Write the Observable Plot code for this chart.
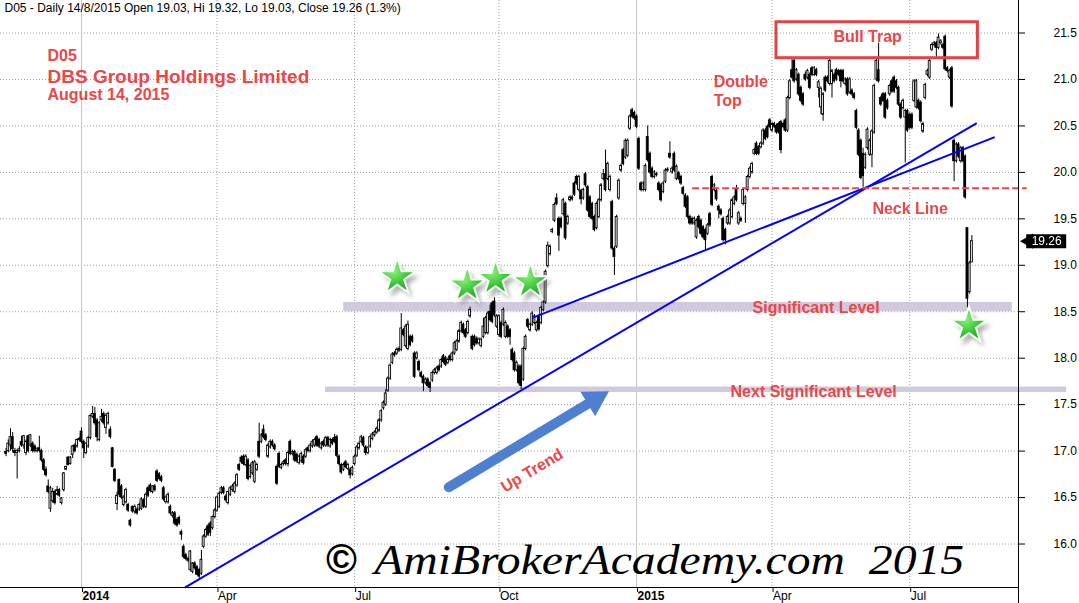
<!DOCTYPE html>
<html><head><meta charset="utf-8">
<script src="https://cdn.jsdelivr.net/npm/d3@7"></script>
<script src="https://cdn.jsdelivr.net/npm/@observablehq/plot@0.6"></script>
<style>html,body{margin:0;padding:0;background:#fff;}</style>
</head><body>
<div id="chart"></div>
<script>
// Daily OHLC, D05 (DBS Group), mid-Nov 2013 .. 14 Aug 2015 (trading-day index)
const O = [
16.97,17.00,17.06,17.15,17.00,16.98,17.00,17.10,17.06,16.98,
17.16,17.06,17.08,17.05,17.00,17.03,17.00,16.90,16.80,16.62,
16.38,16.46,16.56,16.53,16.58,16.44,16.58,16.80,16.93,16.86,
16.96,17.06,17.05,17.12,17.21,17.10,16.98,17.05,17.14,17.37,
17.40,17.33,17.12,17.33,17.40,17.25,17.30,17.23,17.03,16.80,
16.43,16.69,16.62,16.42,16.45,16.42,16.25,16.40,16.35,16.37,
16.37,16.38,16.47,16.40,16.60,16.63,16.56,16.62,16.78,16.75,
16.72,16.60,16.45,16.45,16.40,16.30,16.33,16.26,16.28,16.13,
15.97,15.88,15.82,15.72,15.70,15.79,15.75,15.72,15.68,15.97,
16.08,16.19,16.22,16.17,16.29,16.36,16.40,16.55,16.60,16.51,
16.44,16.53,16.58,16.56,16.63,16.85,16.93,16.94,16.85,16.90,
16.72,16.76,16.67,16.80,17.10,17.10,17.23,17.17,16.94,17.04,
17.10,17.06,16.83,16.97,16.82,16.86,16.90,16.86,17.10,16.97,
16.99,16.96,16.87,16.89,16.94,16.94,17.03,17.00,17.05,17.06,
17.15,17.12,17.03,17.10,17.06,17.14,17.05,17.12,17.14,17.15,
16.94,16.85,16.80,16.88,16.81,16.80,16.75,16.86,16.95,17.03,
17.10,17.14,17.04,16.98,17.05,17.13,17.17,17.20,17.22,17.33,
17.46,17.50,17.65,17.78,17.95,18.05,18.05,18.08,18.09,18.30,
18.13,18.10,18.23,18.23,18.05,18.00,17.96,17.84,17.80,17.73,
17.77,17.73,17.76,17.84,17.84,17.91,17.91,18.02,18.00,17.95,
18.02,17.98,18.05,18.09,18.18,18.29,18.36,18.30,18.27,18.45,
18.23,18.23,18.21,18.16,18.13,18.23,18.27,18.27,18.50,18.59,
18.61,18.34,18.25,18.38,18.36,18.23,18.34,18.30,18.09,18.05,
17.87,17.91,17.91,17.77,18.10,18.41,18.30,18.36,18.38,18.30,
18.45,18.38,18.52,18.60,18.99,19.12,19.36,19.48,19.72,19.50,
19.50,19.55,19.66,19.45,19.70,19.73,19.88,19.95,19.81,19.80,
19.72,19.98,19.84,19.73,19.66,19.52,19.40,19.52,19.70,19.93,
19.98,19.93,19.81,19.68,19.18,19.20,19.72,20.02,20.24,20.16,
20.18,20.47,20.67,20.64,20.60,20.36,19.88,19.81,19.81,20.38,
20.20,20.04,19.95,19.97,19.88,19.86,19.79,19.90,20.02,20.20,
20.00,20.20,19.93,19.99,19.95,19.83,19.75,19.73,19.52,19.50,
19.45,19.30,19.52,19.48,19.41,19.38,19.34,19.55,19.95,19.81,
19.80,19.63,19.59,19.50,19.38,19.45,19.45,19.52,19.66,19.81,
19.45,19.50,19.66,19.66,19.81,19.95,20.00,20.20,20.31,20.27,
20.27,20.31,20.45,20.49,20.56,20.45,20.52,20.50,20.52,20.54,
20.52,20.56,20.45,20.80,21.10,21.20,21.00,21.05,20.91,20.84,
21.05,21.02,21.05,21.12,21.05,21.10,20.91,20.70,20.62,21.02,
21.02,20.95,20.95,21.05,21.10,21.09,21.09,21.09,20.95,21.00,
20.86,20.88,20.84,20.66,20.45,20.34,20.20,20.05,20.26,20.19,
20.19,20.43,21.00,21.10,20.80,20.84,20.84,20.77,20.84,20.98,
21.02,20.98,20.91,20.73,20.69,20.59,20.66,20.62,20.62,20.77,
20.70,20.77,20.75,20.44,20.80,21.05,21.02,21.32,21.37,21.39,
21.34,21.39,21.34,21.46,21.12,21.02,21.12,20.34,20.12,20.30,
20.12,20.26,20.17,19.40,18.71,19.03];
const H = [
17.03,17.12,17.24,17.20,17.03,17.02,17.05,17.16,17.17,17.12,
17.17,17.18,17.10,17.07,17.04,17.16,17.02,16.92,16.83,16.69,
16.62,16.60,16.58,16.62,16.60,16.50,16.77,16.84,16.94,16.94,
17.06,17.08,17.13,17.15,17.25,17.12,17.09,17.16,17.39,17.48,
17.47,17.35,17.32,17.45,17.42,17.40,17.42,17.26,17.04,16.81,
16.56,16.70,16.64,16.52,16.60,16.44,16.27,16.41,16.42,16.39,
16.44,16.50,16.49,16.55,16.62,16.65,16.63,16.64,16.80,16.77,
16.74,16.62,16.52,16.55,16.42,16.35,16.35,16.28,16.30,16.15,
15.99,15.90,15.86,15.93,15.80,15.81,15.77,15.74,15.93,16.10,
16.17,16.21,16.24,16.30,16.38,16.51,16.56,16.62,16.62,16.53,
16.57,16.62,16.64,16.67,16.76,16.87,16.95,16.96,16.96,16.92,
16.86,16.89,16.90,16.87,17.30,17.19,17.28,17.19,17.08,17.12,
17.12,17.08,16.85,16.99,16.87,16.90,16.92,17.00,17.12,17.01,
17.01,16.98,16.96,16.99,16.96,17.03,17.05,17.08,17.12,17.14,
17.17,17.14,17.10,17.12,17.16,17.16,17.14,17.14,17.18,17.17,
16.96,16.87,16.87,16.90,16.87,16.82,16.84,16.96,17.06,17.10,
17.17,17.16,17.06,17.05,17.17,17.20,17.22,17.26,17.35,17.45,
17.54,17.66,17.80,17.94,18.06,18.07,18.11,18.12,18.48,18.32,
18.36,18.40,18.25,18.25,18.07,18.07,17.98,17.86,17.82,17.79,
17.79,17.75,17.86,17.89,17.91,17.93,18.00,18.04,18.02,18.00,
18.04,18.07,18.18,18.20,18.31,18.40,18.38,18.32,18.41,18.55,
18.25,18.25,18.23,18.22,18.22,18.43,18.45,18.50,18.57,18.61,
18.65,18.47,18.47,18.40,18.54,18.40,18.36,18.32,18.11,18.07,
17.97,17.93,17.93,18.12,18.25,18.43,18.38,18.50,18.47,18.40,
18.47,18.56,18.62,18.95,19.25,19.22,19.40,19.67,19.77,19.52,
19.52,19.72,19.68,19.54,19.75,19.75,19.90,19.97,19.97,19.82,
19.83,20.00,19.86,19.75,19.68,19.54,19.68,19.72,19.88,20.03,
20.24,20.11,19.97,19.70,19.20,19.54,19.93,20.09,20.26,20.36,
20.36,20.62,20.69,20.66,20.62,20.38,19.90,19.90,20.09,20.50,
20.22,20.06,20.02,20.00,19.90,19.88,19.90,20.04,20.05,20.33,
20.06,20.22,20.08,20.01,19.97,19.85,19.77,19.75,19.54,19.52,
19.52,19.50,19.54,19.50,19.43,19.40,19.45,19.57,19.97,19.88,
19.82,19.65,19.61,19.52,19.40,19.54,19.61,19.72,19.75,19.86,
19.58,19.52,19.83,19.75,19.97,20.06,20.11,20.26,20.33,20.29,
20.33,20.47,20.47,20.51,20.58,20.54,20.54,20.52,20.54,20.56,
20.54,20.58,20.82,21.00,21.23,21.22,21.12,21.07,20.93,20.86,
21.08,21.11,21.07,21.14,21.14,21.12,20.99,20.92,20.86,21.04,
21.04,21.22,21.11,21.07,21.12,21.11,21.11,21.11,21.02,21.02,
21.02,20.90,20.86,20.68,20.47,20.36,20.26,20.21,20.48,20.36,
20.46,20.95,21.22,21.39,20.82,20.86,20.86,20.79,20.95,21.00,
21.04,21.00,20.93,20.75,20.79,20.68,20.68,20.64,20.64,21.00,
21.00,20.79,20.77,20.54,20.96,21.11,21.22,21.39,21.41,21.41,
21.49,21.43,21.39,21.48,21.14,21.11,21.14,20.36,20.32,20.32,
20.28,20.28,20.19,19.40,19.04,19.32];
const L = [
16.94,16.98,17.00,16.98,16.94,16.70,16.98,17.04,17.02,16.95,
16.98,17.04,16.98,16.98,16.98,16.98,16.88,16.78,16.72,16.54,
16.34,16.44,16.42,16.52,16.50,16.42,16.56,16.79,16.84,16.85,
16.92,16.98,17.03,17.10,17.08,16.92,16.96,17.03,17.12,17.35,
17.28,17.10,17.10,17.31,17.28,17.18,17.28,17.13,16.82,16.66,
16.36,16.50,16.48,16.40,16.43,16.34,16.18,16.33,16.32,16.31,
16.35,16.36,16.38,16.38,16.50,16.55,16.54,16.56,16.66,16.68,
16.66,16.46,16.43,16.43,16.31,16.28,16.20,16.18,16.20,16.04,
15.84,15.82,15.80,15.70,15.68,15.72,15.66,15.63,15.66,15.95,
16.06,16.08,16.08,16.15,16.27,16.34,16.38,16.53,16.53,16.45,
16.42,16.51,16.56,16.54,16.61,16.78,16.86,16.84,16.83,16.68,
16.70,16.74,16.65,16.78,16.92,17.08,17.13,17.10,16.92,17.02,
17.04,17.00,16.63,16.81,16.80,16.84,16.84,16.83,16.95,16.95,
16.88,16.87,16.85,16.87,16.85,16.92,16.98,16.98,17.03,17.04,
17.04,17.03,17.01,17.04,17.04,17.04,17.03,17.06,17.08,16.93,
16.84,16.75,16.78,16.81,16.79,16.70,16.73,16.84,16.93,17.01,
17.08,17.04,16.95,16.96,17.03,17.11,17.15,17.18,17.20,17.31,
17.44,17.48,17.63,17.76,17.93,18.01,18.03,18.06,18.07,18.23,
18.11,18.08,18.12,18.16,17.78,17.98,17.85,17.78,17.64,17.71,
17.68,17.63,17.74,17.82,17.82,17.85,17.89,17.94,17.91,17.93,
17.96,17.96,18.03,18.07,18.16,18.27,18.25,18.21,18.25,18.43,
18.08,18.12,18.14,18.14,18.11,18.21,18.25,18.25,18.39,18.37,
18.44,18.32,18.23,18.21,18.34,18.21,18.21,18.14,17.96,17.85,
17.85,17.71,17.66,17.75,18.08,18.32,18.28,18.34,18.36,18.28,
18.29,18.36,18.50,18.58,18.97,19.10,19.34,19.46,19.64,19.15,
19.39,19.53,19.27,19.43,19.68,19.69,19.74,19.86,19.79,19.65,
19.70,19.84,19.57,19.50,19.48,19.36,19.38,19.50,19.68,19.91,
19.79,19.91,19.79,19.16,18.89,19.18,19.70,20.00,20.07,20.14,
20.16,20.45,20.58,20.56,20.47,20.02,19.79,19.79,19.79,20.11,
19.98,19.93,19.93,19.95,19.79,19.68,19.77,19.88,20.00,20.14,
19.98,20.00,19.91,19.91,19.86,19.75,19.61,19.50,19.43,19.43,
19.43,19.28,19.39,19.32,19.28,19.16,19.32,19.41,19.63,19.79,
19.69,19.50,19.53,19.25,19.22,19.43,19.43,19.50,19.64,19.68,
19.43,19.46,19.64,19.45,19.79,19.93,19.98,20.18,20.18,20.18,
20.25,20.29,20.34,20.36,20.47,20.43,20.47,20.41,20.41,20.20,
20.47,20.43,20.43,20.78,21.00,20.96,20.98,20.82,20.75,20.71,
20.98,21.00,20.89,21.03,21.03,21.03,20.80,20.62,20.55,20.86,
20.96,20.93,20.80,20.96,20.98,21.03,20.91,20.96,20.93,20.82,
20.84,20.82,20.78,20.46,20.17,19.92,19.84,20.03,20.24,20.17,
20.05,20.41,20.98,20.96,20.71,20.75,20.57,20.67,20.82,20.85,
20.85,20.89,20.71,20.57,20.67,20.10,20.43,20.46,20.46,20.75,
20.68,20.67,20.53,20.42,20.78,21.03,21.00,21.30,21.35,21.23,
21.32,21.37,21.32,21.09,21.07,21.00,20.69,19.90,20.10,20.15,
20.10,20.10,19.71,18.54,18.69,19.03];
const C = [
16.99,17.08,17.15,17.02,16.98,17.00,17.02,17.06,17.16,17.10,
17.00,17.17,17.00,17.00,17.02,17.00,16.90,16.80,16.74,16.56,
16.60,16.56,16.44,16.58,16.52,16.49,16.76,16.83,16.85,16.93,
17.05,17.00,17.12,17.13,17.10,17.03,17.08,17.14,17.38,17.40,
17.30,17.15,17.30,17.37,17.30,17.38,17.40,17.15,16.83,16.68,
16.52,16.53,16.50,16.50,16.58,16.36,16.20,16.35,16.40,16.33,
16.42,16.48,16.40,16.53,16.52,16.57,16.62,16.58,16.68,16.70,
16.68,16.48,16.50,16.53,16.33,16.33,16.22,16.20,16.22,16.10,
15.86,15.84,15.84,15.92,15.79,15.74,15.67,15.65,15.83,16.08,
16.15,16.10,16.12,16.29,16.36,16.50,16.54,16.60,16.55,16.47,
16.56,16.60,16.62,16.65,16.74,16.80,16.88,16.86,16.94,16.70,
16.84,16.87,16.88,16.85,16.94,17.17,17.15,17.12,17.06,17.10,
17.06,17.02,16.65,16.83,16.85,16.88,16.86,16.98,16.97,16.99,
16.90,16.89,16.94,16.97,16.87,17.01,17.00,17.06,17.10,17.12,
17.06,17.05,17.08,17.06,17.14,17.06,17.12,17.08,17.10,16.95,
16.86,16.77,16.85,16.83,16.85,16.74,16.82,16.94,17.04,17.08,
17.15,17.06,16.98,17.03,17.15,17.18,17.20,17.24,17.33,17.43,
17.52,17.62,17.78,17.92,18.04,18.03,18.09,18.10,18.32,18.25,
18.34,18.36,18.14,18.18,17.80,18.05,17.87,17.80,17.73,17.77,
17.70,17.68,17.84,17.87,17.89,17.87,17.98,17.96,17.93,17.98,
17.98,18.05,18.16,18.18,18.29,18.38,18.27,18.23,18.39,18.52,
18.10,18.14,18.16,18.20,18.20,18.34,18.43,18.48,18.41,18.39,
18.46,18.45,18.45,18.23,18.52,18.38,18.23,18.23,17.98,17.87,
17.95,17.73,17.70,18.10,18.23,18.34,18.36,18.48,18.45,18.38,
18.31,18.54,18.60,18.93,19.21,19.20,19.38,19.65,19.66,19.32,
19.41,19.70,19.29,19.52,19.73,19.71,19.76,19.88,19.95,19.71,
19.81,19.86,19.59,19.52,19.50,19.38,19.66,19.70,19.86,19.98,
19.81,20.09,19.95,19.18,19.09,19.52,19.91,20.07,20.09,20.34,
20.34,20.60,20.60,20.58,20.49,20.04,19.81,19.88,20.07,20.13,
20.00,19.95,20.00,19.98,19.81,19.70,19.88,20.02,20.03,20.16,
20.04,20.02,20.06,19.93,19.88,19.77,19.63,19.52,19.45,19.45,
19.50,19.48,19.41,19.34,19.30,19.27,19.43,19.43,19.65,19.86,
19.71,19.59,19.55,19.27,19.27,19.52,19.59,19.70,19.73,19.70,
19.56,19.48,19.81,19.73,19.95,20.04,20.09,20.24,20.20,20.20,
20.31,20.45,20.36,20.38,20.49,20.52,20.49,20.43,20.43,20.24,
20.49,20.45,20.80,20.98,21.02,20.98,21.10,20.84,20.77,20.73,
21.00,21.09,20.91,21.05,21.12,21.05,20.97,20.90,20.84,20.88,
20.98,21.20,21.09,20.98,21.00,21.05,20.98,20.98,21.00,20.84,
21.00,20.84,20.80,20.48,20.19,19.94,19.96,20.19,20.46,20.34,
20.44,20.93,21.20,20.98,20.73,20.77,20.59,20.69,20.93,20.87,
20.87,20.91,20.73,20.59,20.77,20.66,20.45,20.48,20.48,20.98,
20.98,20.69,20.55,20.52,20.94,21.09,21.20,21.37,21.39,21.34,
21.45,21.41,21.37,21.11,21.09,21.09,20.71,20.12,20.30,20.17,
20.26,20.12,19.73,18.64,19.02,19.26];

// axis ticks (trading-day index of first session of each quarter)
const tickIdx = [34, 95, 157, 222, 284, 345, 407];
const tickLabels = ["2014", "Apr", "Jul", "Oct", "2015", "Apr", "Jul"];
const isYear = [true, false, false, false, true, false, false];
const priceTicks = [16, 16.5, 17, 17.5, 18, 18.5, 19, 19.5, 20, 20.5, 21, 21.5];
const header = "D05 - Daily 14/8/2015 Open 19.03, Hi 19.32, Lo 19.03, Close 19.26 (1.3%)";

// annotations (in index / price units)
const trendLines = [
  {i1: 80.5, p1: 15.53, i2: 437.2, p2: 20.53},
  {i1: 237.0, p1: 18.434, i2: 445.3, p2: 20.38}
];
const levels = [
  {i1: 152.1, i2: 453.2, lo: 18.50, hi: 18.60},
  {i1: 143.9, i2: 477.7, lo: 17.63, hi: 17.69}
];
const neck = [{i1: 309, i2: 459.7, p: 19.83}];
const bullTrap = [{i1: 347.0, i2: 437.7, p1: 21.616, p2: 21.229}];
const stars = [
  {i: 176.2, p: 18.871}, {i: 207.7, p: 18.782}, {i: 220.5, p: 18.854},
  {i: 236.2, p: 18.818}, {i: 433.7, p: 18.351}
];
const arrowShaft = [{i: 199.4, p: 16.611}, {i: 261.5, p: 17.501}];
const arrowHead = [{i: 265.2, p: 17.553}];
const notes = [
  {t: "D05", i: 18.67, p: 21.259, s: 16},
  {t: "DBS Group Holdings Limited", i: 18.67, p: 21.033, s: 19},
  {t: "August 14, 2015", i: 18.67, p: 20.834, s: 16},
  {t: "Double", i: 318.7, p: 20.974, s: 16},
  {t: "Top", i: 318.7, p: 20.769, s: 16},
  {t: "Neck Line", i: 390.2, p: 19.609, s: 16},
  {t: "Significant Level", i: 336.2, p: 18.546, s: 16},
  {t: "Next Significant Level", i: 326.3, p: 17.642, s: 16}
];
const bullTrapLabel = [{t: "Bull Trap", i: 388.05, p: 21.456}];
const upTrend = [{t: "Up Trend", i: 236.9, p: 16.79}];
const copyMark = [{t: "©", i: 151.1, p: 15.822}];
const watermark = [{t: "AmiBrokerAcademy.com  2015", i: 165.8, p: 15.822}];

const candles = C.map((c, i) => ({i, o: O[i], h: H[i], l: L[i], c}));
const last = [C[C.length - 1]];
const RED = "#e84848";
const BLUE_ARROW = "#4f7fcf";
const SANS = "Arial, 'Liberation Sans', sans-serif";

const chart = Plot.plot({
  width: 1079, height: 603,
  marginLeft: 0, marginRight: 61, marginTop: 0, marginBottom: 16,
  style: {fontFamily: SANS, fontSize: "12px", background: "#fff", color: "#000"},
  x: {type: "linear", domain: [-2.5, 456]},
  y: {type: "linear", domain: [15.532, 21.85]},
  marks: [
    // grid
    Plot.ruleY(priceTicks, {y: d => d, stroke: "#a0a0a0", strokeDasharray: "1,2"}),
    Plot.ruleX(tickIdx.filter((d, k) => !isYear[k]), {x: d => d, stroke: "#a0a0a0", strokeDasharray: "1,2"}),
    Plot.ruleX(tickIdx.filter((d, k) => isYear[k]), {x: d => d, stroke: "#c4c4c4"}),
    // significance bands
    Plot.rect(levels, {x1: "i1", x2: "i2", y1: "lo", y2: "hi", fill: "#d1cade"}),
    // candles
    Plot.ruleX(candles, {x: "i", y1: "l", y2: "h", stroke: "#000", strokeWidth: 1}),
    Plot.rect(candles, {x1: d => d.i - 0.42, x2: d => d.i + 0.42, y1: "o", y2: "c",
      fill: d => d.c >= d.o ? "#ffffff" : "#000000", stroke: "#000", strokeWidth: 0.9}),
    // trend lines & neck line
    Plot.link(trendLines, {x1: "i1", y1: "p1", x2: "i2", y2: "p2", stroke: "#0000ff", strokeWidth: 2}),
    Plot.link(neck, {x1: "i1", x2: "i2", y1: "p", y2: "p", stroke: RED, strokeWidth: 2, strokeDasharray: "7,3"}),
    // bull trap box
    Plot.rect(bullTrap, {x1: "i1", x2: "i2", y1: "p1", y2: "p2", fill: "none", stroke: "#e04444", strokeWidth: 3}),
    // up-trend arrow
    Plot.line(arrowShaft, {x: "i", y: "p", stroke: BLUE_ARROW, strokeWidth: 10, strokeLinecap: "round"}),
    Plot.dot(arrowHead, {x: "i", y: "p", symbol: "triangle", r: 10.6, fill: BLUE_ARROW, rotate: 59}),
    // stars
    Plot.dot(stars, {x: "i", y: "p", symbol: "star", r: 11.5, fill: "#555", fillOpacity: 0.45, dx: 4, dy: 5, imageFilter: "blur(2px)"}),
    Plot.dot(stars, {x: "i", y: "p", symbol: "star", r: 11.5, fill: "url(#starGrad)", stroke: "#f4fff4", strokeWidth: 2}),
    // axes
    Plot.ruleY([15.532], {y: d => d, stroke: "#000"}),
    Plot.ruleX([456], {x: d => d, y1: 21.85, y2: 15.36, stroke: "#000"}),
    Plot.axisY({anchor: "right", ticks: priceTicks, tickSize: 6, tickPadding: 29, tickFormat: d => d.toFixed(1), label: null, fontSize: 12}),
    Plot.axisX({anchor: "bottom", ticks: tickIdx.filter((d, k) => !isYear[k]), tickSize: 5, tickPadding: -1,
      tickFormat: d => tickLabels[tickIdx.indexOf(d)], textAnchor: "start", dx: 1, label: null, fontSize: 12}),
    Plot.axisX({anchor: "bottom", ticks: tickIdx.filter((d, k) => isYear[k]), tickSize: 5, tickPadding: -1,
      tickFormat: d => tickLabels[tickIdx.indexOf(d)], textAnchor: "start", dx: 1, label: null, fontSize: 12, fontWeight: "bold"}),
    // last price tag
    Plot.ruleY(last, {y: d => d, x1: 459.7, x2: 477.7, stroke: "#000", strokeWidth: 14}),
    Plot.dot(last, {x: 460.6, y: d => d, symbol: "triangle", rotate: -90, r: 5.6, fill: "#000"}),
    Plot.text(last, {x: 468.7, y: d => d, text: d => d.toFixed(2), fill: "#fff", fontSize: 12}),
    // texts
    Plot.text([header], {frameAnchor: "top-left", text: d => d, dx: 4, dy: 3, lineAnchor: "top", textAnchor: "start", fontSize: 12, fill: "#000"}),
    Plot.text(notes, {x: "i", y: "p", text: "t", fontSize: d => d.s, fontWeight: "bold", fill: RED, textAnchor: "start"}),
    Plot.text(bullTrapLabel, {x: "i", y: "p", text: "t", fontSize: 16, fontWeight: "bold", fill: RED}),
    Plot.text(upTrend, {x: "i", y: "p", text: "t", fontSize: 16, fontWeight: "bold", fill: RED, rotate: -31}),
    Plot.text(copyMark, {x: "i", y: "p", text: "t", fontSize: 42, fontWeight: "bold", fill: "#000"}),
    Plot.text(watermark, {x: "i", y: "p", text: "t", fontSize: 42, fontFamily: "'Liberation Serif', 'DejaVu Serif', serif", fontStyle: "italic", fill: "#000", textAnchor: "start"})
  ]
});

// gradient for the stars
const svg = chart.tagName.toLowerCase() === "svg" ? chart : chart.querySelector("svg");
const defs = d3.select(svg).insert("defs", ":first-child");
const grad = defs.append("radialGradient").attr("id", "starGrad").attr("cx", "40%").attr("cy", "35%").attr("r", "70%");
grad.append("stop").attr("offset", "0%").attr("stop-color", "#8ff07c");
grad.append("stop").attr("offset", "55%").attr("stop-color", "#3cc63a");
grad.append("stop").attr("offset", "100%").attr("stop-color", "#1f9f22");
// stretch the watermark to its width in the reference
svg.querySelectorAll("text").forEach(t => {
  if (t.textContent.startsWith("AmiBroker")) {
    t.setAttribute("textLength", 590);
    t.setAttribute("lengthAdjust", "spacingAndGlyphs");
  }
});
document.getElementById("chart").appendChild(chart);
</script>
</body></html>
